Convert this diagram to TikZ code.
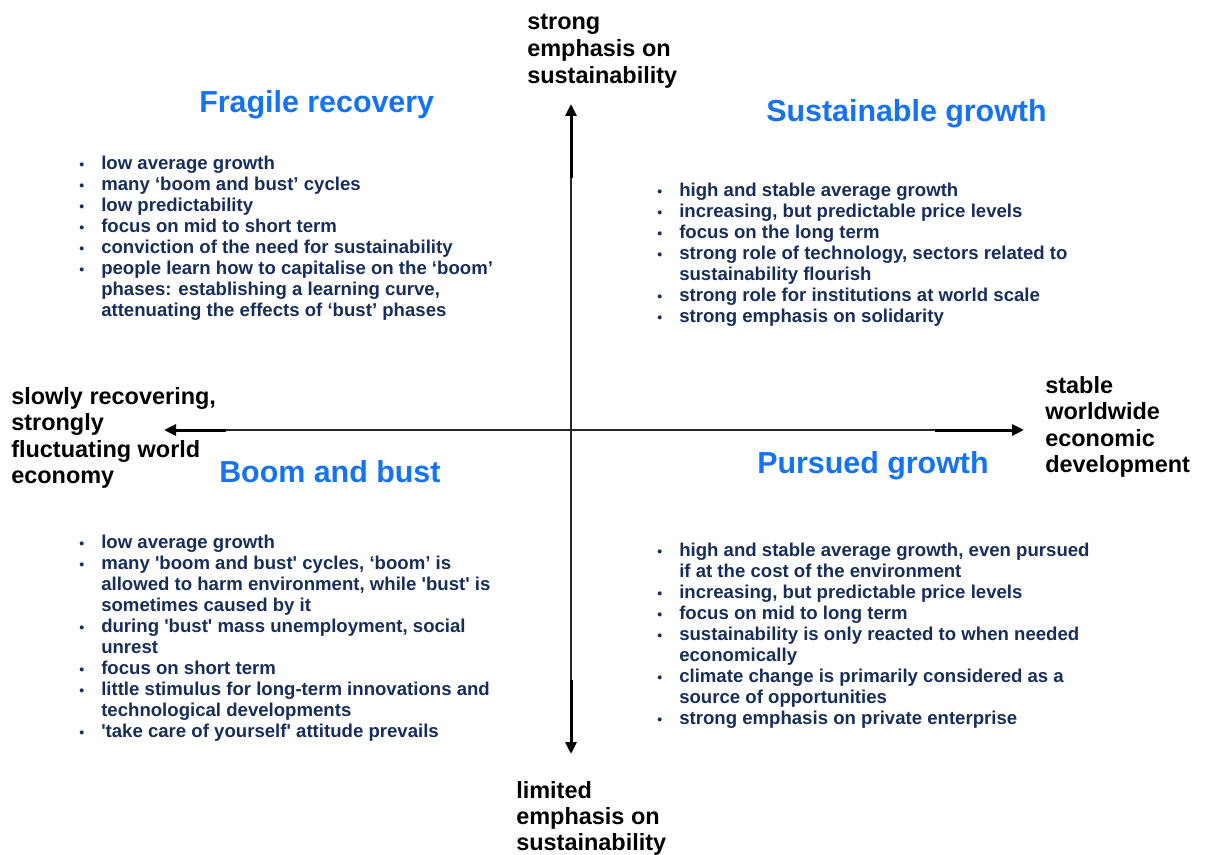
\documentclass[tikz,border=0pt]{standalone}
\usepackage{fontspec}
\newfontfamily\arial{Liberation Sans}
\usetikzlibrary{arrows.meta}
\newlength\px \setlength\px{0.75pt}
\definecolor{navy}{RGB}{23,45,90}
\definecolor{ttlblue}{RGB}{20,115,245}
\newcommand{\bitem}{\par\noindent\llap{\makebox[21\px][l]{\hspace{-1\px}{\fontsize{10.5}{10.5}\selectfont •}}}}
\newcommand{\blines}[1]{\parbox[t]{560\px}{\raggedright\setlength\leftskip{21\px}#1}}
\newcommand{\alines}[1]{\parbox[t]{220\px}{\raggedright #1}}
\tikzset{
  axlabel/.style={font=\arial\bfseries\fontsize{17.6}{19.9}\selectfont, text=black, anchor=base west, inner sep=0pt},
  ttl/.style={font=\arial\bfseries\fontsize{22.8}{26}\selectfont, text=ttlblue, anchor=base west, inner sep=0pt},
  blist/.style={font=\arial\bfseries\fontsize{13.95}{15.75}\selectfont, text=navy, anchor=base west, inner sep=0pt},
  thinax/.style={line width=0.9pt, draw=black!85},
  thickax/.style={line width=2.25pt, draw=black, -{Triangle[length=9pt,width=8.25pt]}}
}
\begin{document}
\begin{tikzpicture}[x=0.75pt,y=-0.75pt]
\useasboundingbox (0,0) rectangle (1206,855);
% axes
\coordinate (vt) at (571,104);
\coordinate (vt2) at (571,178);
\coordinate (vb2) at (571,680);
\coordinate (vb) at (571,754);
\coordinate (hl) at (164,430);
\coordinate (hl2) at (226,430);
\coordinate (hr2) at (935,430);
\coordinate (hr) at (1024,430);
\draw[thinax] (vt2) -- (vb2);
\draw[thinax] (hl2) -- (hr2);
\draw[thickax] (vt2) -- (vt);
\draw[thickax] (vb2) -- (vb);
\draw[thickax] (hl2) -- (hl);
\draw[thickax] (hr2) -- (hr);
% axis labels
\node[axlabel] (top) at (527,30) {\alines{strong\\emphasis on\\sustainability}};
\node[axlabel, font=\arial\bfseries\fontsize{17.6}{19.5}\selectfont] (bot) at (516,798) {\alines{limited\\emphasis on\\sustainability}};
\node[axlabel] (lft) at (11,404) {\alines{slowly recovering,\\strongly\\fluctuating world\\economy}};
\node[axlabel] (rgt) at (1045,393) {\alines{stable\\worldwide\\economic\\development}};
% titles
\node[ttl] (tfr) at (199,113) {Fragile recovery};
\node[ttl] (tsg) at (766,122) {Sustainable growth};
\node[ttl] (tbb) at (219,482) {Boom and bust};
\node[ttl] (tpg) at (757,473) {Pursued growth};
% lists
\node[blist] (lfr) at (80,170) {\blines{%
\bitem low average growth
\bitem many ‘boom and bust’ cycles
\bitem low predictability
\bitem focus on mid to short term
\bitem conviction of the need for sustainability
\bitem people learn how to capitalise on the ‘boom’\\phases: establishing a learning curve,\\attenuating the effects of ‘bust’ phases}};
\node[blist] (lsg) at (658,197) {\blines{%
\bitem high and stable average growth
\bitem increasing, but predictable price levels
\bitem focus on the long term
\bitem strong role of technology, sectors related to\\sustainability flourish
\bitem strong role for institutions at world scale
\bitem strong emphasis on solidarity}};
\node[blist] (lbb) at (80,548) {\blines{%
\bitem low average growth
\bitem many 'boom and bust' cycles, ‘boom’ is\\allowed to harm environment, while 'bust' is\\sometimes caused by it
\bitem during 'bust' mass unemployment, social\\unrest
\bitem focus on short term
\bitem little stimulus for long-term innovations and\\technological developments
\bitem 'take care of yourself' attitude prevails}};
\node[blist] (lpg) at (658,556) {\blines{%
\bitem high and stable average growth, even pursued\\if at the cost of the environment
\bitem increasing, but predictable price levels
\bitem focus on mid to long term
\bitem sustainability is only reacted to when needed\\economically
\bitem climate change is primarily considered as a\\source of opportunities
\bitem strong emphasis on private enterprise}};
\end{tikzpicture}
\end{document}
